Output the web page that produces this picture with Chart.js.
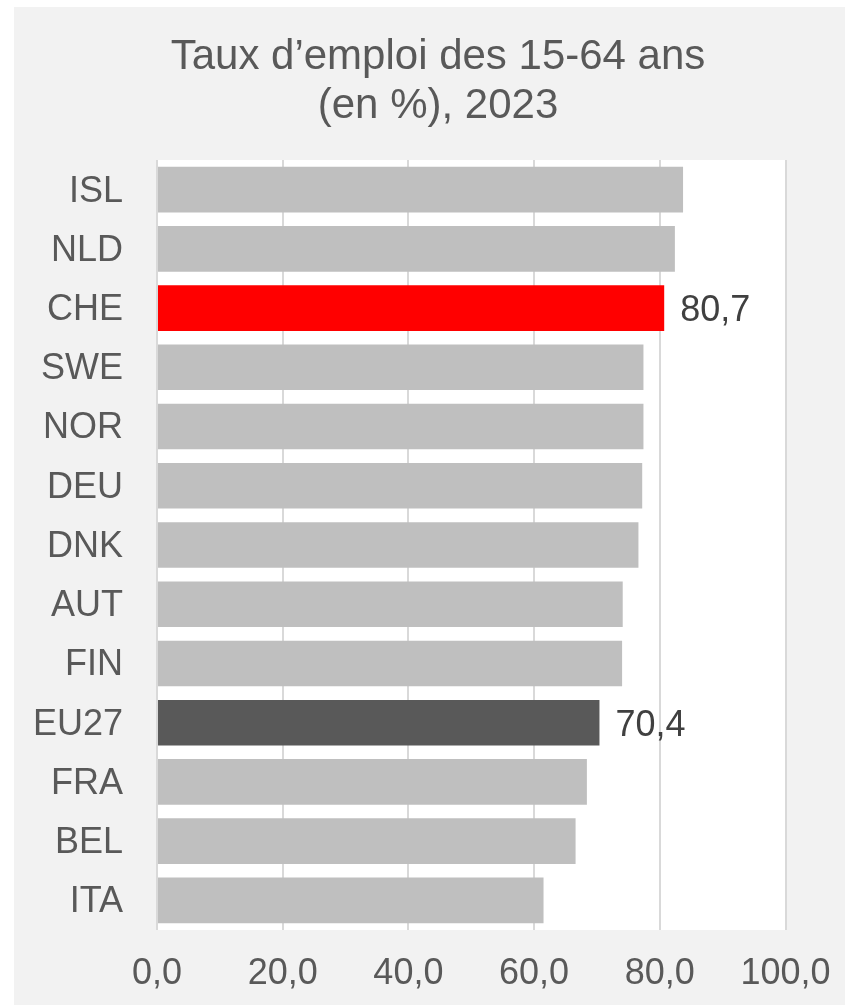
<!DOCTYPE html>
<html lang="fr">
<head>
<meta charset="utf-8">
<title>Taux d'emploi des 15-64 ans</title>
<script src="https://cdn.jsdelivr.net/npm/chart.js@4/dist/chart.umd.min.js"></script>
<style>
    html, body { margin: 0; padding: 0; background: #ffffff; }
    #wrap { width: 845px; height: 1005px; }
</style>
</head>
<body>
<div id="wrap"><canvas id="graphique"></canvas></div>
<script>
/* ==============================
   DONNEES
================================ */
const pays = ["ISL", "NLD", "CHE", "SWE", "NOR", "DEU", "DNK", "AUT", "FIN", "EU27", "FRA", "BEL", "ITA"];
const taux = [83.7, 82.4, 80.7, 77.4, 77.4, 77.2, 76.6, 74.1, 74.0, 70.4, 68.4, 66.6, 61.5];
const couleurs = ["#bfbfbf", "#bfbfbf", "#ff0000", "#bfbfbf", "#bfbfbf", "#bfbfbf", "#bfbfbf",
                  "#bfbfbf", "#bfbfbf", "#595959", "#bfbfbf", "#bfbfbf", "#bfbfbf"];
const etiquettes = ["CHE", "EU27"];
const titre = ["Taux d\u2019emploi des 15-64 ans", "(en %), 2023"];

const POLICE = "'Liberation Sans', Arial, sans-serif";
const virgule = v => Number(v).toFixed(1).replace(".", ",");

/* ==============================
   FOND + TITRE
================================ */
const fond = {
    id: "fond",
    beforeDraw(chart) {
        const ctx = chart.ctx;
        const a = chart.chartArea;
        ctx.save();
        ctx.fillStyle = "#f2f2f2";
        ctx.fillRect(14, 7, chart.width - 14, chart.height - 7);
        ctx.fillStyle = "#ffffff";
        ctx.fillRect(a.left, a.top, a.right - a.left, a.bottom - a.top);

        ctx.fillStyle = "#595959";
        ctx.font = "42px " + POLICE;
        ctx.textAlign = "center";
        ctx.textBaseline = "alphabetic";
        titre.forEach((t, i) => ctx.fillText(t, 438, 69 + i * 49));
        ctx.restore();
    }
};

/* ==============================
   ETIQUETTES DE VALEUR
================================ */
const valeurs = {
    id: "valeurs",
    afterDatasetsDraw(chart) {
        const ctx = chart.ctx;
        const meta = chart.getDatasetMeta(0);
        ctx.save();
        ctx.fillStyle = "#404040";
        ctx.font = "36px " + POLICE;
        ctx.textAlign = "left";
        ctx.textBaseline = "middle";
        pays.forEach((p, i) => {
            if (!etiquettes.includes(p)) return;
            const bar = meta.data[i];
            ctx.fillText(virgule(taux[i]), bar.x + 16, bar.y + 3);
        });
        ctx.restore();
    }
};

/* ==============================
   GRAPHIQUE
================================ */
new Chart(document.getElementById("graphique"), {
    type: "bar",
    data: {
        labels: pays,
        datasets: [{
            data: taux,
            backgroundColor: couleurs,
            categoryPercentage: 1,
            barPercentage: 0.77
        }]
    },
    options: {
        indexAxis: "y",
        responsive: true,
        maintainAspectRatio: false,
        animation: false,
        layout: { padding: { top: 160, left: 14, right: 59.5, bottom: 0 } },
        plugins: {
            legend: { display: false },
            title: { display: false },
            tooltip: { enabled: false }
        },
        scales: {
            x: {
                min: 0,
                max: 100,
                ticks: {
                    stepSize: 20,
                    color: "#595959",
                    font: { family: POLICE, size: 36 },
                    padding: 22,
                    maxRotation: 0,
                    callback: v => virgule(v)
                },
                grid: { color: "#d9d9d9", lineWidth: 2, drawTicks: false },
                border: { display: false },
                afterFit: s => {
                    s.height = 75;
                    s.paddingLeft = 0;
                    s.paddingRight = 0;
                }
            },
            y: {
                ticks: {
                    color: "#595959",
                    font: { family: POLICE, size: 36 },
                    padding: 34,
                    labelOffset: 2
                },
                grid: { display: false, drawTicks: false },
                border: { display: false },
                afterFit: s => { s.width = 143; }
            }
        }
    },
    plugins: [fond, valeurs]
});
</script>
</body>
</html>
